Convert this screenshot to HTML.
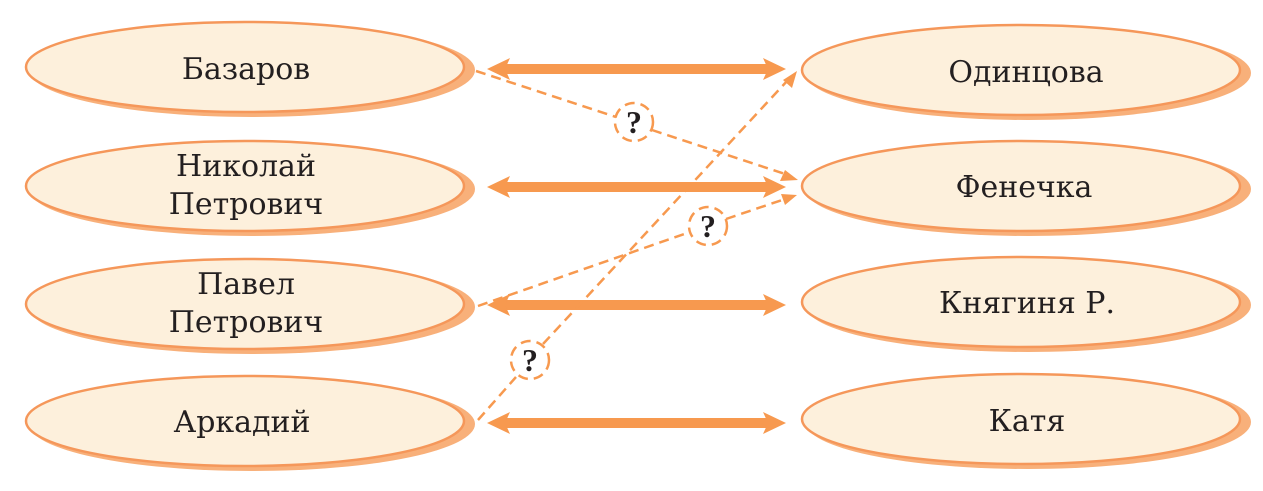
<!DOCTYPE html>
<html><head><meta charset="utf-8"><style>
html,body{margin:0;padding:0;background:#fff;}
svg{display:block}
text{font-family:"DejaVu Serif","Liberation Serif",serif;font-size:30px;fill:#231f20;text-anchor:middle}
.q{font-family:"Liberation Serif",serif;font-weight:bold;font-size:32px}
</style></head><body>
<svg width="1263" height="491" viewBox="0 0 1263 491" xmlns="http://www.w3.org/2000/svg">
<defs>
<g id="ell">
<ellipse cx="7" cy="3" rx="223" ry="47" fill="#f8b07a"/>
<ellipse cx="0" cy="0" rx="219" ry="45" fill="#fdf0dc" stroke="#f5975a" stroke-width="2.5"/>
</g>
<g id="arr">
<rect x="505" y="-5" width="263" height="10" fill="#f7994f"/>
<path d="M487,0 L510,-11 L505,0 L510,11 Z" fill="#f7994f"/>
<path d="M786,0 L763,-11 L768,0 L763,11 Z" fill="#f7994f"/>
</g>
</defs>
<use href="#ell" x="245" y="67"/>
<use href="#ell" x="245" y="186"/>
<use href="#ell" x="245" y="304"/>
<use href="#ell" x="245" y="421"/>
<use href="#ell" x="1021" y="70"/>
<use href="#ell" x="1021" y="186"/>
<use href="#ell" x="1021" y="302"/>
<use href="#ell" x="1021" y="419"/>
<use href="#arr" x="0" y="69"/>
<use href="#arr" x="0" y="187"/>
<use href="#arr" x="0" y="305"/>
<use href="#arr" x="0" y="423"/>
<g stroke="#f7994f" stroke-width="2.5" stroke-dasharray="10,6" fill="none">
<line x1="476" y1="71" x2="616" y2="117"/>
<line x1="652" y1="130" x2="785" y2="174"/>
<line x1="478" y1="306" x2="690" y2="232"/>
<line x1="726" y1="219" x2="785" y2="199"/>
<line x1="478" y1="420" x2="516" y2="377"/>
<line x1="543" y1="344" x2="788" y2="80"/>
<circle cx="634" cy="122" r="19"/>
<circle cx="708" cy="226" r="19"/>
<circle cx="530" cy="360" r="19"/>
</g>
<g fill="#f7994f">
<path d="M798,180 L780,181 L785,170 Z"/>
<path d="M797,195 L785,205 L781,194 Z"/>
<path d="M797,71 L792,88 L783,80 Z"/>
</g>
<text class="q" x="634" y="133">?</text>
<text class="q" x="708" y="237">?</text>
<text class="q" x="530" y="371">?</text>
<text x="246" y="79">Базаров</text>
<text x="246" y="176">Николай</text>
<text x="246" y="214">Петрович</text>
<text x="246" y="294">Павел</text>
<text x="246" y="332">Петрович</text>
<text x="242" y="432">Аркадий</text>
<text x="1026" y="82">Одинцова</text>
<text x="1024" y="197">Фенечка</text>
<text x="1027" y="313">Княгиня Р.</text>
<text x="1027" y="431">Катя</text>
</svg>
</body></html>
